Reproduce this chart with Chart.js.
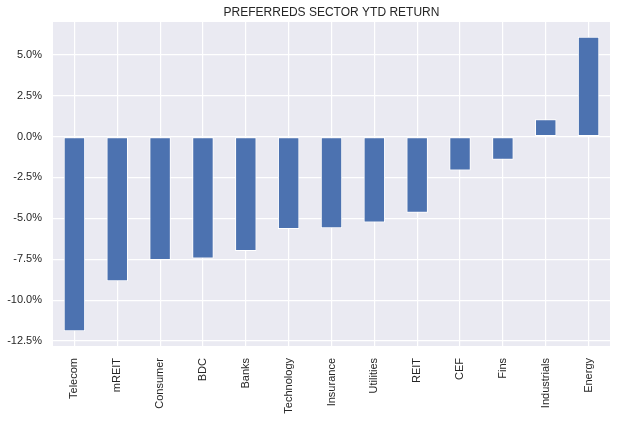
<html>
  <head>
    <meta charset="utf-8">
    <script src="https://cdn.jsdelivr.net/npm/chart.js@4/dist/chart.umd.min.js"></script>
    <style>
      body { margin: 0; background: #ffffff; }
      #wrap { width: 622px; height: 421px; }
    </style>
  </head>
  <body>
    <div id="wrap"><canvas id="chart" width="622" height="421"></canvas></div>
    <script>
      var sectors = ['Telecom', 'mREIT', 'Consumer', 'BDC', 'Banks', 'Technology', 'Insurance',
                     'Utilities', 'REIT', 'CEF', 'Fins', 'Industrials', 'Energy'];
      var ytdReturn = [-11.9, -8.85, -7.55, -7.45, -7.0, -5.65, -5.6, -5.25, -4.65, -2.07, -1.42, 1.05, 6.1];
      var yTicks = [-12.5, -10.0, -7.5, -5.0, -2.5, 0.0, 2.5, 5.0];
      var chartTitle = 'PREFERREDS SECTOR YTD RETURN';

      var txt = '#262626';
      var fontFam = 'Liberation Sans, Arial, sans-serif';

      // grey plot background + title centred over the plot area (matplotlib style)
      var plotBg = {
        id: 'plotBg',
        beforeDraw: function(chart) {
          var a = chart.chartArea, ctx = chart.ctx;
          ctx.save();
          ctx.fillStyle = '#EAEAF2';
          ctx.fillRect(a.left, a.top, a.right - a.left, a.bottom - a.top);
          ctx.restore();
        },
        afterDraw: function(chart) {
          var a = chart.chartArea, ctx = chart.ctx;
          ctx.save();
          ctx.fillStyle = txt;
          ctx.font = '12px ' + fontFam;
          ctx.textAlign = 'center';
          ctx.textBaseline = 'alphabetic';
          ctx.fillText(chartTitle, (a.left + a.right) / 2, 16);
          ctx.restore();
        }
      };

      new Chart(document.getElementById('chart'), {
        type: 'bar',
        data: {
          labels: sectors,
          datasets: [{
            label: 'YTD return',
            data: ytdReturn,
            backgroundColor: '#4C72B0',
            borderColor: '#ffffff',
            borderWidth: 1,
            borderSkipped: false,
            barPercentage: 0.5,
            categoryPercentage: 1.0
          }]
        },
        options: {
          responsive: false,
          animation: false,
          devicePixelRatio: 1,
          layout: { padding: { left: 0, right: 12, top: 22, bottom: 0 } },
          plugins: {
            legend: { display: false },
            tooltip: { enabled: false },
            title: { display: false }
          },
          scales: {
            x: {
              grid: { color: '#ffffff', lineWidth: 1.2, offset: false, drawTicks: false },
              border: { display: false },
              ticks: {
                color: txt,
                minRotation: 90, maxRotation: 90,
                padding: 12,
                font: { family: fontFam, size: 11 }
              },
              afterFit: function(s) { s.height = 75; }
            },
            y: {
              min: -12.8,
              max: 7.0,
              grid: { color: '#ffffff', lineWidth: 1.2, drawTicks: false },
              border: { display: false },
              ticks: {
                color: txt,
                padding: 11,
                font: { family: fontFam, size: 11 },
                callback: function(v) { return v.toFixed(1) + '%'; }
              },
              afterBuildTicks: function(s) {
                s.ticks = yTicks.map(function(v) { return { value: v }; });
              },
              afterFit: function(s) { s.width = 53; }
            }
          }
        },
        plugins: [plotBg]
      });
    </script>
  </body>
</html>
